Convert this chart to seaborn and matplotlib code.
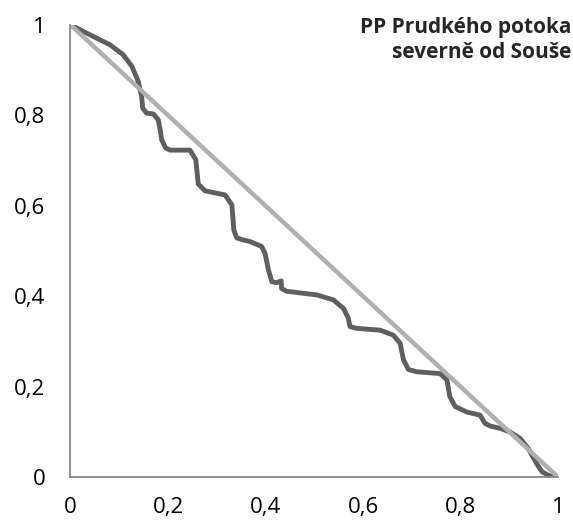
import pandas as pd
import seaborn as sns
import matplotlib.pyplot as plt

# curve (x = share of length, y = share of area)
curve_x = [0, 0.040, 0.081, 0.108, 0.126, 0.139, 0.146, 0.148, 0.156, 0.170,
           0.180, 0.184, 0.187, 0.195, 0.204, 0.245, 0.257, 0.262, 0.276, 0.317,
           0.331, 0.335, 0.341, 0.352, 0.368, 0.392, 0.399, 0.406, 0.413, 0.423,
           0.432, 0.433, 0.443, 0.505, 0.539, 0.560, 0.570, 0.573, 0.587, 0.635,
           0.662, 0.676, 0.683, 0.693, 0.710, 0.758, 0.772, 0.778, 0.789, 0.813,
           0.840, 0.850, 0.861, 0.881, 0.901, 0.922, 0.939, 0.956, 0.967, 0.980,
           1.0]
curve_y = [1.0, 0.978, 0.956, 0.934, 0.908, 0.875, 0.841, 0.816, 0.805, 0.803,
           0.790, 0.768, 0.746, 0.728, 0.723, 0.723, 0.702, 0.648, 0.633, 0.624,
           0.602, 0.546, 0.529, 0.525, 0.521, 0.510, 0.495, 0.458, 0.432, 0.430,
           0.434, 0.417, 0.411, 0.403, 0.392, 0.373, 0.351, 0.333, 0.329, 0.325,
           0.314, 0.296, 0.259, 0.238, 0.233, 0.229, 0.215, 0.178, 0.156, 0.144,
           0.137, 0.119, 0.113, 0.108, 0.100, 0.086, 0.063, 0.030, 0.012, 0.004,
           0.0]
diag_x = [0, 1]
diag_y = [1, 0]
ticks = [0, 0.2, 0.4, 0.6, 0.8, 1]
tick_labels = ['0', '0,2', '0,4', '0,6', '0,8', '1']
title = 'PP Prudkého potoka\nseverně od Souše'

sns.set_style('white')
plt.rcParams['font.family'] = ['Open Sans', 'DejaVu Sans']

fig = plt.figure(figsize=(5.73, 5.29), dpi=100)
ax = fig.add_axes([0.123, 0.098, 0.851, 0.855])

curve = pd.DataFrame({'x': curve_x, 'y': curve_y})
sns.lineplot(data=curve, x='x', y='y', ax=ax, color='#5f5f5f', linewidth=3.5,
             sort=False, solid_joinstyle='round', solid_capstyle='round')
sns.lineplot(x=diag_x, y=diag_y, ax=ax, color='#b0b0b0', linewidth=3.2)

ax.set_xlim(0, 1)
ax.set_ylim(0, 1)
ax.set_xticks(ticks)
ax.set_xticklabels(tick_labels)
ax.set_yticks(ticks)
ax.set_yticklabels(tick_labels)
ax.set_xlabel('')
ax.set_ylabel('')

for s in ['top', 'right']:
    ax.spines[s].set_visible(False)
for s in ['left', 'bottom']:
    ax.spines[s].set_color('#878787')
    ax.spines[s].set_linewidth(1.3)
ax.tick_params(axis='both', direction='out', length=6, width=1.3, color='#878787',
               labelsize=16, labelcolor='black')
ax.tick_params(axis='x', pad=8)
ax.tick_params(axis='y', pad=12)

fig.text(0.997, 0.968, title, ha='right', va='top', fontsize=15, fontweight='bold',
         linespacing=1.25)

plt.savefig('out.png', dpi=100)
